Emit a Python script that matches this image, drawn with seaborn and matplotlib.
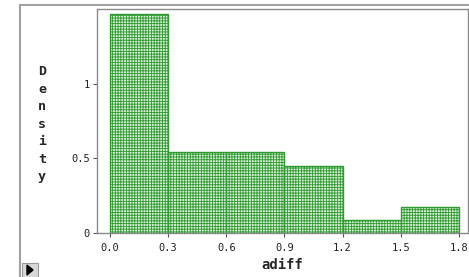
import numpy as np
import pandas as pd
import matplotlib
matplotlib.use("Agg")
import matplotlib.pyplot as plt
import seaborn as sns
from matplotlib.patches import Rectangle, Polygon
from matplotlib.lines import Line2D

# histogram (density per 0.3-wide bin)
bin_edges = [0.0, 0.3, 0.6, 0.9, 1.2, 1.5, 1.8]
density = [1.47, 0.545, 0.545, 0.45, 0.087, 0.175]
x_ticks = [0.0, 0.3, 0.6, 0.9, 1.2, 1.5, 1.8]
x_tick_labels = ["0.0", "0.3", "0.6", "0.9", "1.2", "1.5", "1.8"]
y_ticks = [0, 0.5, 1]
y_tick_labels = ["0", "0.5", "1"]

sns.set_style("white")
plt.rcParams["font.family"] = ["DejaVu Sans Mono"]
plt.rcParams["hatch.linewidth"] = 0.6

centers = [(a + b) / 2 for a, b in zip(bin_edges[:-1], bin_edges[1:])]
df = pd.DataFrame({"adiff": centers, "w": density})

fig = plt.figure(figsize=(4.69, 2.77), dpi=100)
ax = fig.add_axes([97 / 469, 44 / 277, 371 / 469, 224 / 277])

sns.histplot(data=df, x="adiff", weights="w", bins=bin_edges, stat="count",
             ax=ax, color="#d6eed6", edgecolor="#2f9a2f", linewidth=1.0,
             alpha=1.0, hatch="++++++")

ax.set_xlim(-0.067, 1.847)
ax.set_ylim(0, 1.503)
ax.set_xticks(x_ticks)
ax.set_xticklabels(x_tick_labels)
ax.set_yticks(y_ticks)
ax.set_yticklabels(y_tick_labels)
ax.tick_params(axis="both", direction="out", length=3, width=0.8,
               color="#555555", labelsize=7.5, pad=2, labelcolor="#222222")
ax.tick_params(axis="x", pad=4)
ax.tick_params(axis="y", left=True)
ax.tick_params(axis="x", bottom=True)
ax.set_ylabel("")
ax.set_xlabel("adiff", fontsize=10, fontweight="bold", labelpad=4)
for s in ax.spines.values():
    s.set_color("#8a8a8a")
    s.set_linewidth(1.0)

# stacked vertical y label
fig.text(42 / 469, 1 - 124.5 / 277, "D\ne\nn\ns\ni\nt\ny", ha="center", va="center",
         fontsize=9.5, fontweight="bold", linespacing=1.45)

# outer panel frame
fig.add_artist(Line2D([20 / 469, 1.0], [1 - 5 / 277, 1 - 5 / 277],
                      transform=fig.transFigure, color="#a0a0a0", lw=1.5))
fig.add_artist(Line2D([20 / 469, 20 / 469], [0, 1 - 5 / 277],
                      transform=fig.transFigure, color="#a0a0a0", lw=1.5))

# small play button bottom-left
fig.add_artist(Rectangle((22 / 469, 0), 16 / 469, 14 / 277, transform=fig.transFigure,
                         facecolor="#d8d8d8", edgecolor="#9a9a9a", lw=0.8))
fig.add_artist(Polygon([[27 / 469, 2 / 277], [27 / 469, 12 / 277], [33 / 469, 7 / 277]],
                       closed=True, transform=fig.transFigure, facecolor="black",
                       edgecolor="black"))

fig.savefig("out.png", dpi=100)
